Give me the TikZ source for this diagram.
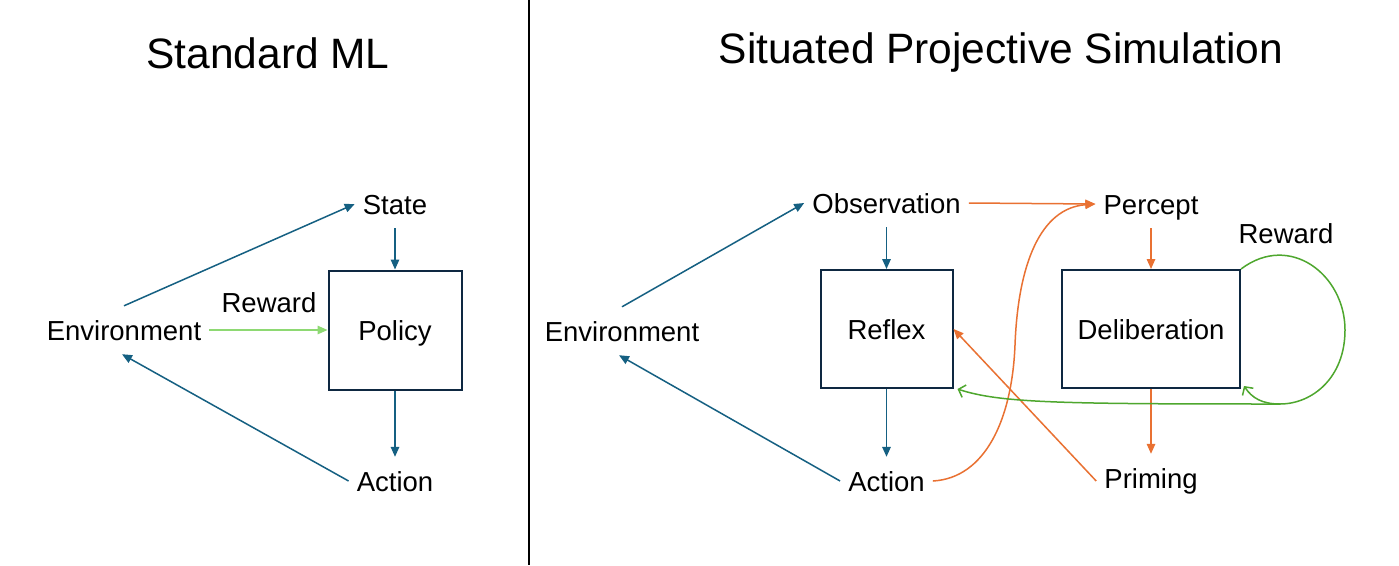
\documentclass[tikz,border=0pt]{standalone}
\usepackage{fontspec}
\setmainfont{Liberation Sans}
\usetikzlibrary{arrows.meta}
\definecolor{cblue}{HTML}{156082}
\definecolor{cdark}{HTML}{0E2841}
\definecolor{corange}{HTML}{E97132}
\definecolor{cgreen}{HTML}{4EA72E}
\definecolor{clgreen}{HTML}{8ED973}
\tikzset{
  lbl/.style={font=\fontsize{27.5pt}{31pt}\selectfont, inner xsep=8pt, inner ysep=0pt, text height=20pt, text depth=0pt, minimum height=48pt},
  ttl/.style={font=\fontsize{42.5pt}{50pt}\selectfont, inner sep=0pt},
  blk/.style={draw=cdark, line width=2pt, font=\fontsize{27.5pt}{31pt}\selectfont, inner sep=0pt, text height=20pt, text depth=0pt},
  barrow/.style={draw=cblue, line width=1.5pt, -{Triangle[length=10pt,width=8.5pt]}},
  oarrow/.style={draw=corange, line width=1.5pt, -{Triangle[length=10pt,width=8.5pt]}},
  garrow/.style={draw=cgreen, line width=1.5pt, -{Straight Barb[length=6pt,width=13pt,line width=1.5pt]}},
  lgarrow/.style={draw=clgreen, line width=1.5pt, -{Triangle[length=10pt,width=8.5pt]}}
}
\begin{document}
\begin{tikzpicture}[x=1pt,y=-1pt]
\useasboundingbox (0,0) rectangle (1399,565);
\fill[white] (0,0) rectangle (1399,565);
% divider
\draw[black, line width=2pt] (529,0) -- (529,565);

% ---------- left panel ----------
\node[ttl] (t1) at (268,53) {Standard ML};
\node[lbl] (env1) at (124,330) {Environment};
\node[lbl] (state1) at (395,204) {State};
\node[lbl] (act1) at (395,481) {Action};
\node[blk, minimum width=133pt, minimum height=119pt] (pol) at (395,330) {Policy};
\node[lbl] (rew1) at (269,302) {Reward};

\draw[barrow] (env1.north) -- (state1.west);
\draw[barrow] (state1.south) -- (pol.north);
\draw[barrow] (pol.south) -- (act1.north);
\draw[barrow] (act1.west) -- ([xshift=-2pt]env1.south);
\draw[lgarrow] (env1.east) -- (pol.west);

% ---------- right panel ----------
\node[ttl] (t2) at (1001,53) {Situated Projective Simulation};
\node[lbl] (env2) at (622,331) {Environment};
\node[lbl] (obs) at (886.5,203) {Observation};
\node[lbl] (act2) at (886.5,481) {Action};
\node[lbl] (perc) at (1151,204) {Percept};
\node[lbl] (prim) at (1151,478) {Priming};
\node[lbl] (rew2) at (1286,233) {Reward};
\node[blk, minimum width=132pt, minimum height=118pt] (refl) at (886.5,329) {Reflex};
\node[blk, minimum width=178pt, minimum height=118pt] (delib) at (1151,329) {Deliberation};

\draw[barrow] (env2.north) -- (obs.west);
\draw[barrow] (obs.south) -- (refl.north);
\draw[barrow] (refl.south) -- (act2.north);
\draw[barrow] (act2.west) -- ([xshift=-3pt]env2.south);

\draw[oarrow] (obs.east) -- (perc.west);
\draw[oarrow] (perc.south) -- (delib.north);
\draw[oarrow] (delib.south) -- (prim.north);
\draw[oarrow] ([yshift=-3pt]prim.west) -- (refl.east);
\coordinate (mid) at (1015,345);
\draw[oarrow] (act2.east) .. controls (985,478) and (1012,420) .. (mid)
  .. controls (1018,265) and (1040,208) .. (perc.west);

% reward loop
\coordinate (rj) at (1280,404);
\draw[draw=cgreen, line width=1.5pt] (delib.north east) .. controls (1290,232) and (1345,275) .. (1345,330)
  .. controls (1345,378) and (1312,404) .. (rj);
\draw[garrow] (rj) .. controls (1262,404) and (1252,398) .. ([xshift=3pt,yshift=3pt]delib.south east);
\draw[garrow] (rj) .. controls (1060,404) and (1000,403) .. ([xshift=4pt]refl.south east);
\end{tikzpicture}
\end{document}
